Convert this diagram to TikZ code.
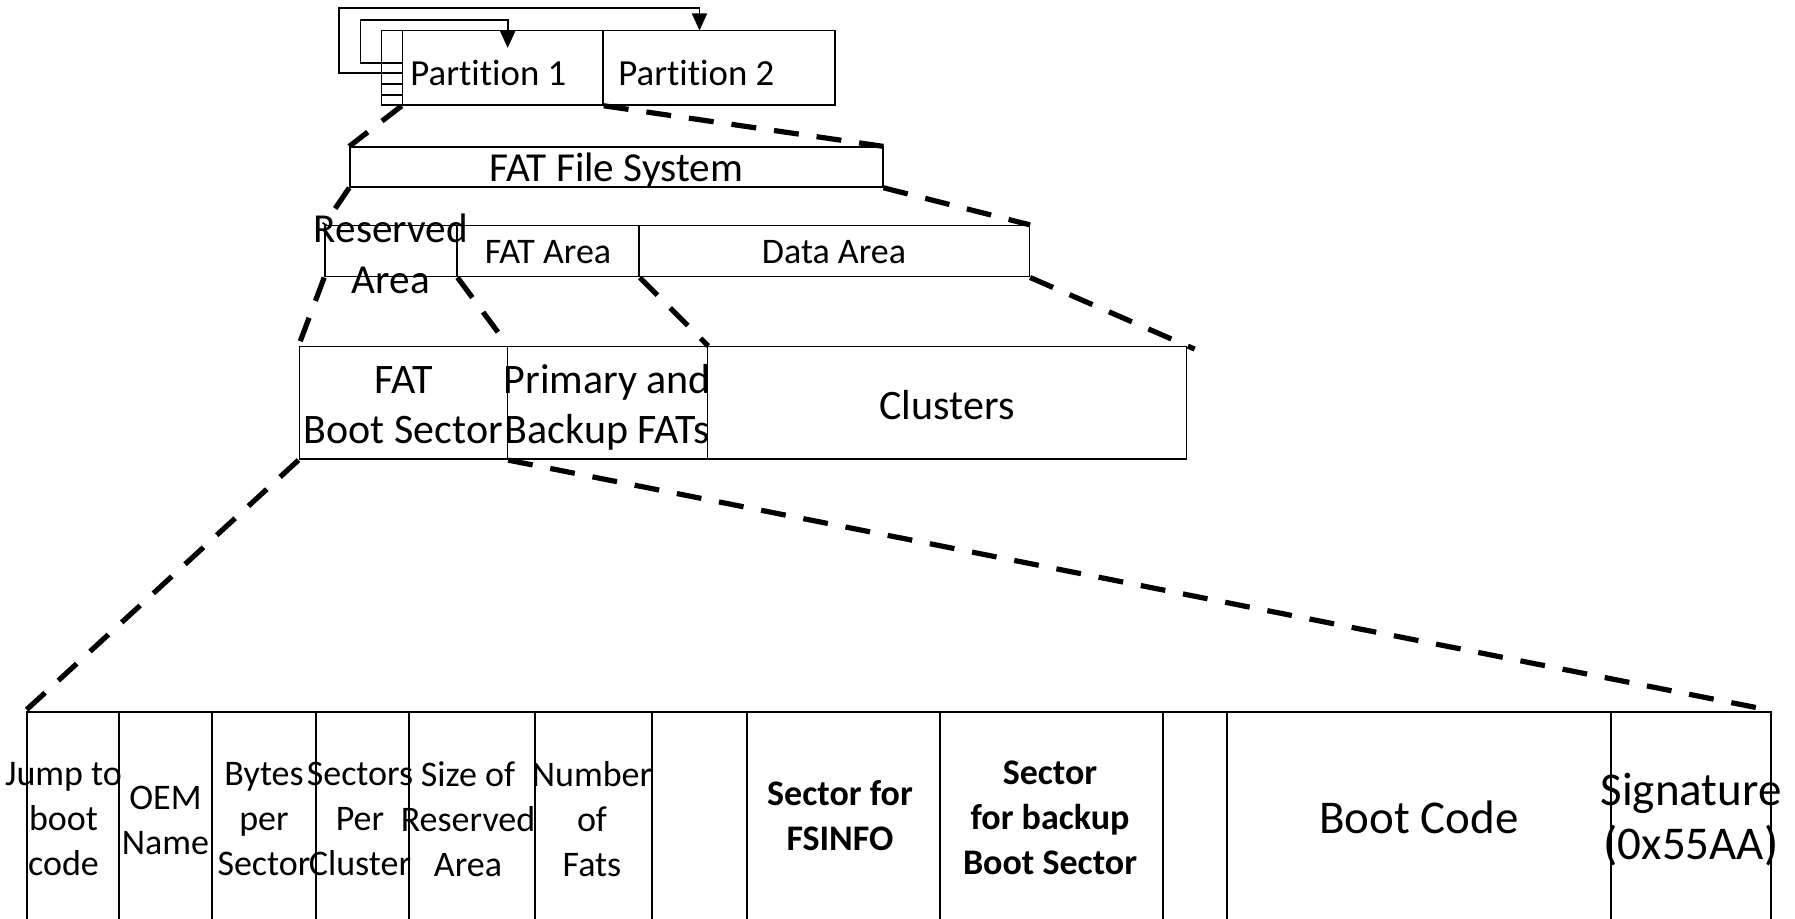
\documentclass[tikz,border=0pt]{standalone}
\usepackage{fontspec}
\setmainfont{Carlito}[Ligatures=NoCommon]
\usetikzlibrary{fit,arrows.meta}
\begin{document}
\begin{tikzpicture}[x=0.5pt,y=-0.5pt,
  box/.style={draw, line width=0.8pt, inner sep=0pt, rectangle},
  cellbox/.style={draw, line width=1pt, inner sep=0pt, rectangle},
  zoomline/.style={line width=2.6pt, dash pattern=on 12.5pt off 9pt},
  arr/.style={line width=0.8pt, -{Triangle[width=7.5pt,length=8.5pt]}},
  lbl/.style={inner sep=0pt, align=center},
  fpart/.style={font=\fontsize{18.4}{22}\selectfont},
  fbig/.style={font=\fontsize{20.6}{25.8}\selectfont},
  fmid/.style={font=\fontsize{18}{21}\selectfont},
  fthree/.style={font=\fontsize{21}{25}\selectfont},
  fcell/.style={font=\fontsize{18}{22.5}\selectfont},
  fbold/.style={font=\bfseries\fontsize{18}{22.5}\selectfont},
  fhuge/.style={font=\fontsize{23.5}{27}\selectfont}]
\useasboundingbox (0,0) rectangle (1795,919);
\clip (0,0) rectangle (1795,919);

% ---- level 1: partitions
\node[box, fit={(381.3,30.5) (402.6,105)}] (sb) {};
\node[box, fit={(402.6,30.5) (603,105)}] (p1) {};
\node[box, fit={(603,30.5) (834.8,105)}] (p2) {};
\foreach \yy [count=\i] in {62.9,73.3,83.9,95}
  \draw[line width=0.8pt] (381.3,\yy) -- (402.6,\yy);
\node[lbl, fpart, anchor=base west] (tp1) at (410,86) {Partition 1};
\node[lbl, fpart, anchor=base west] (tp2) at (618,86) {Partition 2};

\coordinate (a1s) at (381.3,62.9);
\coordinate (a1t) at (507.7,48);
\coordinate (a2s) at (381.3,73.3);
\coordinate (a2t) at (699.5,30.5);
\draw[arr] (a1s) -| (360.6,19.8) -| (a1t);
\draw[arr] (a2s) -| (339,7.8) -| (a2t);

% ---- level 2: FAT file system
\node[box, fit={(350,147.2) (882.7,187)}] (fs) {};
\node[lbl, fbig, anchor=base] (tfs) at (616.3,181.7) {FAT File System};

% ---- level 2b: areas
\node[box, fit={(325,225.7) (456.7,276.7)}] (ra) {};
\node[box, fit={(456.7,225.7) (639,276.7)}] (fa) {};
\node[box, fit={(639,225.7) (1029.3,276.7)}] (da) {};
\node[lbl, fbig] (tra) at (390.8,254) {Reserved\\Area};
\node[lbl, fmid] (tfa) at (548,251.7) {FAT Area};
\node[lbl, fmid] (tda) at (834,251.7) {Data Area};

% ---- level 3
\node[box, fit={(299.3,346.7) (507.3,459.3)}] (bs) {};
\node[box, fit={(507.3,346.7) (707.3,459.3)}] (pf) {};
\node[box, fit={(707.3,346.7) (1186.5,459.3)}] (cl) {};
\node[lbl, fthree] (tbs) at (403.3,405) {FAT\\Boot Sector};
\node[lbl, fthree] (tpf) at (607.3,407) {Primary and\\Backup FATs};
\node[lbl, fthree] (tcl) at (947,405) {Clusters};

% ---- level 4: boot sector fields
\foreach \nm/\xa/\xb in {c1/26.5/119, c2/119/212, c3/212/316, c4/316/408.5,
  c5/408.5/535, c6/535/651.5, c7/651.5/747, c8/747/940, c9/940/1163,
  c10/1163/1227, c11/1227/1611, c12/1611/1771}
  \node[cellbox, fit={(\xa,711.7) (\xb,935)}] (\nm) {};
\node[lbl, fcell] (t1) at (63.5,819) {Jump to\\boot\\code};
\node[lbl, fcell] (t2) at (165.5,820) {OEM\\Name};
\node[lbl, fcell] (t3) at (264,819) {Bytes\\per\\Sector};
\node[lbl, fcell] (t4) at (360,819) {Sectors\\Per\\Cluster};
\node[lbl, fcell] (t5) at (468,819) {Size of\\Reserved\\Area};
\node[lbl, fcell] (t6) at (592,819) {Number\\of\\Fats};
\node[lbl, fbold] (t8) at (840,816) {Sector for\\FSINFO};
\node[lbl, fbold] (t9) at (1050,818) {Sector\\for backup\\Boot Sector};
\node[lbl, fhuge] (t11) at (1419,817) {Boot Code};
\node[lbl, fhuge] (t12) at (1691,820) {Signature\\(0x55AA)};

% ---- zoom connectors
\draw[zoomline] (p1.south west) -- (fs.north west);
\draw[zoomline] (p1.south east) -- (fs.north east);
\draw[zoomline] (fs.south west) -- (ra.north west);
\draw[zoomline] (fs.south east) -- (da.north east);
\draw[zoomline] (ra.south west) -- (bs.north west);
\draw[zoomline] (ra.south east) -- (bs.north east);
\draw[zoomline] (fa.south east) -- (pf.north east);
\draw[zoomline, shorten >=-4pt] (da.south east) -- (cl.north east);
\draw[zoomline] (bs.south west) -- (c1.north west);
\draw[zoomline] (bs.south east) -- (c12.north east);
\end{tikzpicture}
\end{document}
